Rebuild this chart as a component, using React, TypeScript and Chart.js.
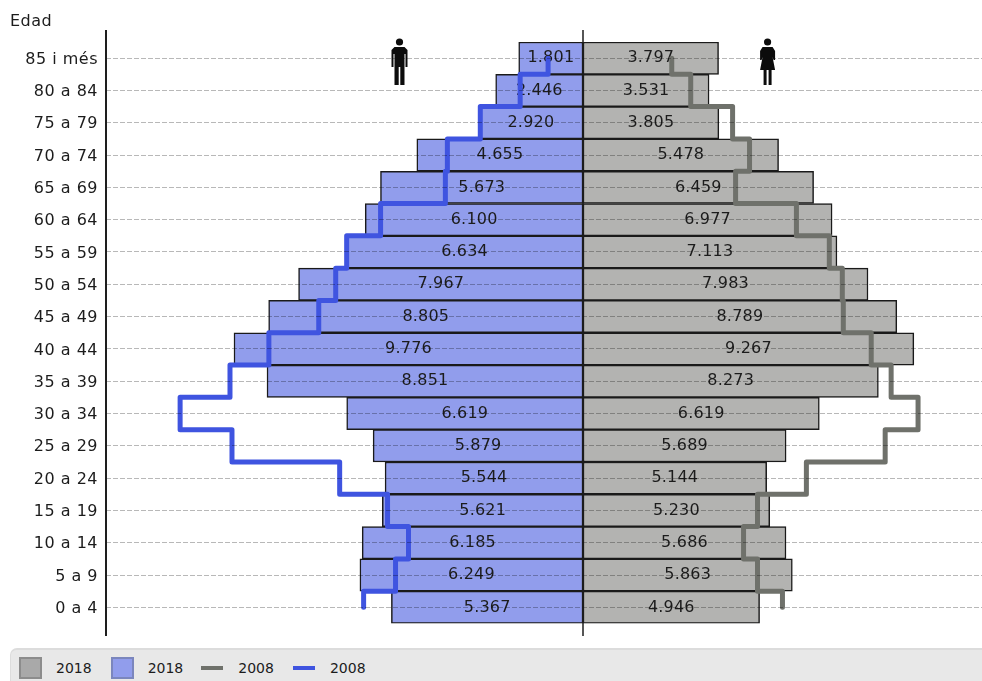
import React, { useEffect, useRef } from "react";
import { Chart, registerables } from "chart.js";

Chart.register(...registerables);

const FONT = "'DejaVu Sans', sans-serif";

const categories = ["85 i més", "80 a 84", "75 a 79", "70 a 74", "65 a 69", "60 a 64", "55 a 59", "50 a 54", "45 a 49", "40 a 44", "35 a 39", "30 a 34", "25 a 29", "20 a 24", "15 a 19", "10 a 14", "5 a 9", "0 a 4"];
const men2018 = [1801, 2446, 2920, 4655, 5673, 6100, 6634, 7967, 8805, 9776, 8851, 6619, 5879, 5544, 5621, 6185, 6249, 5367];
const women2018 = [3797, 3531, 3805, 5478, 6459, 6977, 7113, 7983, 8789, 9267, 8273, 6619, 5689, 5144, 5230, 5686, 5863, 4946];
const men2008 = [978, 1760, 2877, 3799, 3855, 5670, 6620, 6927, 7402, 8799, 9888, 11285, 9832, 6816, 5475, 4888, 5251, 6145];
const women2008 = [2486, 3017, 4190, 4665, 4274, 5978, 6899, 7263, 7291, 8073, 8631, 9385, 8464, 6257, 4888, 4497, 4888, 5587];

const GREY_BAR = "#b3b3b1";
const BLUE_BAR = "#919dec";
const GREY_LINE = "#6f716b";
const BLUE_LINE = "#3f54e0";

const legendItems = [
  { label: "2018", kind: "box", fill: "#a9a9a9", border: "#8c8c8c" },
  { label: "2018", kind: "box", fill: BLUE_BAR, border: "#7b86bd" },
  { label: "2008", kind: "line", fill: GREY_LINE, border: GREY_LINE },
  { label: "2008", kind: "line", fill: BLUE_LINE, border: BLUE_LINE },
];

// Step outline: vertical runs span each age band, horizontal runs sit on band edges.
const stepPoints = (values: number[], sign: number) => {
  const pts: { x: number; y: number }[] = [];
  values.forEach((v, i) => {
    pts.push({ x: sign * v, y: i === 0 ? 0 : i - 0.5 });
    pts.push({ x: sign * v, y: i === values.length - 1 ? i : i + 0.5 });
  });
  return pts;
};

const fmt = (v: number) => {
  const s = String(Math.abs(v));
  return s.length > 3 ? s.slice(0, -3) + "." + s.slice(-3) : s;
};

const drawFigure = (ctx: CanvasRenderingContext2D, cx: number, top: number, female: boolean) => {
  ctx.save();
  ctx.fillStyle = "#0c0c0c";
  ctx.beginPath();
  ctx.arc(cx, top + 4, 3.6, 0, Math.PI * 2);
  ctx.fill();
  if (female) {
    ctx.beginPath();
    ctx.moveTo(cx - 5, top + 9);
    ctx.lineTo(cx + 5, top + 9);
    ctx.lineTo(cx + 7.5, top + 13);
    ctx.lineTo(cx + 7.5, top + 22);
    ctx.lineTo(cx + 6, top + 22);
    ctx.lineTo(cx + 5, top + 19);
    ctx.lineTo(cx + 7.5, top + 32);
    ctx.lineTo(cx - 7.5, top + 32);
    ctx.lineTo(cx - 5, top + 19);
    ctx.lineTo(cx - 6, top + 22);
    ctx.lineTo(cx - 7.5, top + 22);
    ctx.lineTo(cx - 7.5, top + 13);
    ctx.closePath();
    ctx.fill();
    ctx.fillRect(cx - 4, top + 32, 3, 15);
    ctx.fillRect(cx + 1, top + 32, 3, 15);
  } else {
    ctx.beginPath();
    ctx.moveTo(cx - 5, top + 9);
    ctx.lineTo(cx + 5, top + 9);
    ctx.lineTo(cx + 8, top + 12);
    ctx.lineTo(cx + 8, top + 29);
    ctx.lineTo(cx + 6, top + 29);
    ctx.lineTo(cx + 6, top + 16);
    ctx.lineTo(cx + 5, top + 16);
    ctx.lineTo(cx + 5, top + 47);
    ctx.lineTo(cx + 0.8, top + 47);
    ctx.lineTo(cx + 0.8, top + 29);
    ctx.lineTo(cx - 0.8, top + 29);
    ctx.lineTo(cx - 0.8, top + 47);
    ctx.lineTo(cx - 5, top + 47);
    ctx.lineTo(cx - 5, top + 16);
    ctx.lineTo(cx - 6, top + 16);
    ctx.lineTo(cx - 6, top + 29);
    ctx.lineTo(cx - 8, top + 29);
    ctx.lineTo(cx - 8, top + 12);
    ctx.closePath();
    ctx.fill();
  }
  ctx.restore();
};

const pyramidPlugin = {
  id: "pyramid",
  beforeDraw(chart: any) {
    chart.ctx.letterSpacing = "0.5px";
  },
  afterDatasetDraw(chart: any, args: any) {
    if (args.index > 1) return;
    const { ctx } = chart;
    const meta = chart.getDatasetMeta(args.index);
    const values = chart.data.datasets[args.index].data as number[];
    const zero = chart.scales.x.getPixelForValue(0);
    ctx.save();
    ctx.letterSpacing = "0.2px";
    ctx.font = `16px ${FONT}`;
    ctx.fillStyle = "#1c1c1c";
    ctx.textAlign = "center";
    ctx.textBaseline = "middle";
    meta.data.forEach((el: any, i: number) => {
      ctx.fillText(fmt(values[i]), (el.x + zero) / 2, el.y);
    });
    ctx.restore();
  },
  afterDraw(chart: any) {
    const { ctx, chartArea, scales } = chart;
    ctx.letterSpacing = "0px";
    const top = chartArea.top - 12;
    const bottom = chartArea.bottom + 12.5;
    ctx.save();
    ctx.strokeStyle = "#1e1e1e";
    ctx.lineWidth = 2;
    ctx.beginPath();
    ctx.moveTo(chartArea.left, top);
    ctx.lineTo(chartArea.left, bottom);
    ctx.stroke();
    ctx.lineWidth = 1.5;
    ctx.beginPath();
    const zero = scales.x.getPixelForValue(0);
    ctx.moveTo(zero, top);
    ctx.lineTo(zero, bottom);
    ctx.stroke();
    ctx.restore();
    drawFigure(ctx, scales.x.getPixelForValue(-5140), 38, false);
    drawFigure(ctx, scales.x.getPixelForValue(5170), 38, true);
  },
};

export default function App() {
  const ref = useRef<HTMLCanvasElement>(null);

  useEffect(() => {
    if (!ref.current) return;
    const chart = new Chart(ref.current, {
      type: "bar",
      plugins: [pyramidPlugin],
      data: {
        labels: categories,
        datasets: [
          { label: "2018", data: men2018.map((v) => -v), backgroundColor: BLUE_BAR, borderColor: "#1a1a1a", borderWidth: 1.5, borderSkipped: false, order: 3, yAxisID: "y", xAxisID: "x" },
          { label: "2018", data: women2018, backgroundColor: GREY_BAR, borderColor: "#1a1a1a", borderWidth: 1.5, borderSkipped: false, order: 3, yAxisID: "y", xAxisID: "x" },
          { type: "line", label: "2008", data: stepPoints(women2008, 1), borderColor: GREY_LINE, borderWidth: 5, pointRadius: 0, fill: false, tension: 0, borderJoinStyle: "round", order: 1, indexAxis: "y", yAxisID: "y2", xAxisID: "x" },
          { type: "line", label: "2008", data: stepPoints(men2008, -1), borderColor: BLUE_LINE, borderWidth: 5, pointRadius: 0, fill: false, tension: 0, borderJoinStyle: "round", order: 1, indexAxis: "y", yAxisID: "y2", xAxisID: "x" },
        ] as any,
      },
      options: {
        indexAxis: "y",
        responsive: false,
        animation: false,
        grouped: false,
        barPercentage: 1,
        categoryPercentage: 1,
        layout: { padding: { left: 10, right: 0, top: 0, bottom: 57.5 } },
        plugins: {
          legend: { display: false },
          tooltip: { enabled: false },
          title: {
            display: true,
            text: "Edad",
            align: "start",
            color: "#1c1c1c",
            font: { family: FONT, size: 16, weight: "normal", lineHeight: 1 },
            padding: { top: 14, bottom: 12 },
          },
        },
        scales: {
          x: { type: "linear", display: false, min: -13361, max: 11176, grid: { display: false } },
          y: {
            type: "category",
            offset: true,
            afterFit: (s: any) => { s.width = 96; },
            border: { display: false, dash: [5, 2] },
            grid: { offset: false, z: 1, drawTicks: false, color: "rgba(0,0,0,0.28)", lineWidth: 1 },
            ticks: { padding: 8, labelOffset: 1.5, color: "#1c1c1c", autoSkip: false, font: { family: FONT, size: 16 } },
          },
          y2: { type: "linear", display: false, offset: false, reverse: true, min: -0.5, max: 17.5, grid: { display: false } },
        },
      } as any,
    });
    return () => chart.destroy();
  }, []);

  return (
    <div style={{ position: "absolute", left: 0, top: 0, width: 982, height: 681, overflow: "hidden", background: "#fff" }}>
      <canvas ref={ref} width={982} height={681} style={{ display: "block" }} />
      <div
        style={{
          position: "absolute", left: 10, top: 648, width: 972, height: 33, boxSizing: "border-box",
          background: "#e8e8e8", borderTop: "2px solid #dcdcdc", borderLeft: "1px solid #dcdcdc", borderTopLeftRadius: 7,
          display: "flex", alignItems: "center", paddingLeft: 8, font: `14px ${FONT}`, color: "#1c1c1c",
        }}
      >
        {legendItems.map((it, i) => (
          <div key={i} style={{ display: "flex", alignItems: "center", marginRight: i === 1 ? 18 : 19, paddingTop: 5 }}>
            {it.kind === "box" ? (
              <span style={{ width: 23, height: 22, boxSizing: "border-box", background: it.fill, border: `2px solid ${it.border}`, marginRight: 14 }} />
            ) : (
              <span style={{ width: 22, height: 4, background: it.fill, marginRight: 15 }} />
            )}
            <span>{it.label}</span>
          </div>
        ))}
      </div>
    </div>
  );
}
